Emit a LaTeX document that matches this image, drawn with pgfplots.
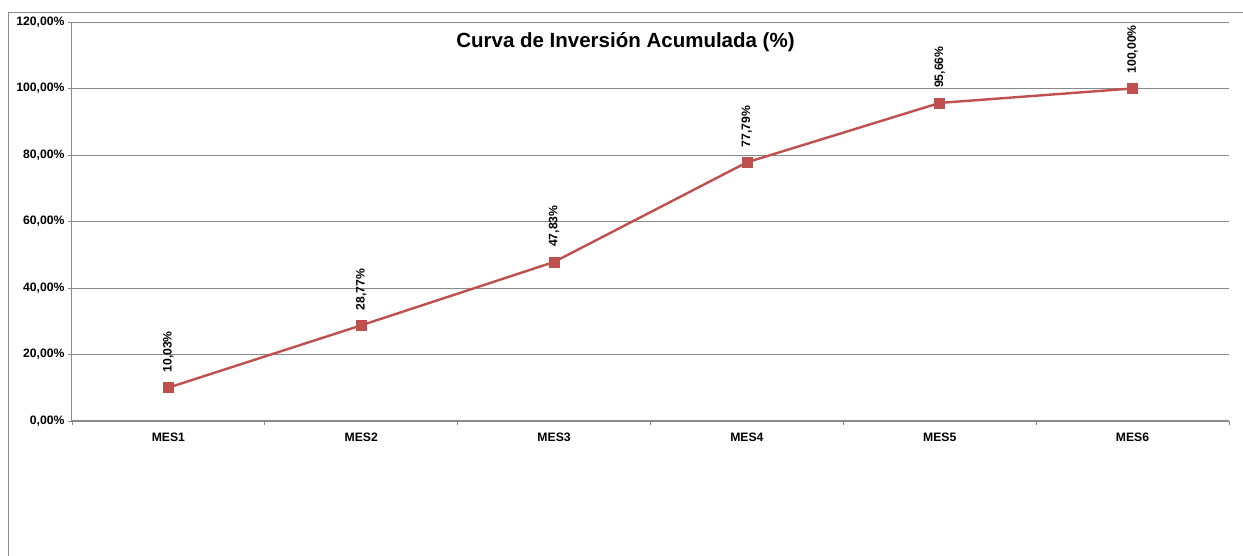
\documentclass[border=0pt]{standalone}
\usepackage{pgfplots}
\pgfplotsset{compat=1.18}
\usepackage{fontspec}
\setmainfont{Liberation Sans}
\definecolor{linered}{HTML}{C0504D}
\definecolor{gridgray}{HTML}{898989}
\begin{document}
\begin{tikzpicture}[x=1pt,y=1pt]
\useasboundingbox (0,0) rectangle (1243,556);
\draw[gridgray,line width=1pt] (8,0) -- (8,543) -- (1243,543);
\begin{axis}[
  at={(72pt,135pt)}, anchor=south west,
  scale only axis, width=1157pt, height=399pt,
  xmin=-0.5, xmax=5.5, ymin=0, ymax=120,
  axis x line*=bottom, axis y line*=left,
  axis line style={gridgray,line width=1pt},
  xtick={0,1,2,3,4,5}, xticklabels={MES1,MES2,MES3,MES4,MES5,MES6},
  minor xtick={-0.5,0.5,1.5,2.5,3.5,4.5,5.5},
  major x tick style={draw=none},
  minor x tick style={gridgray,line width=0.8pt},
  ytick={0,20,40,60,80,100,120},
  yticklabels={{0,00\%},{20,00\%},{40,00\%},{60,00\%},{80,00\%},{100,00\%},{120,00\%}},
  y tick style={gridgray,line width=0.8pt},
  tick align=outside, major tick length=4pt, minor tick length=4pt,
  ymajorgrids, grid style={gridgray,line width=0.8pt},
  tick label style={font=\bfseries\fontsize{12.2}{14}\selectfont},
  xticklabel style={yshift=-4pt},
  yticklabel style={xshift=0pt},
  clip=false,
  title={\bfseries\fontsize{20.5}{24}\selectfont Curva de Inversión Acumulada (\%)},
  title style={at={(0.5,1)}, anchor=north, yshift=-13pt, xshift=-25pt},
  nodes near coords,
  point meta=explicit symbolic,
  every node near coord/.append style={rotate=90, anchor=west, black, font=\bfseries\fontsize{12.2}{14}\selectfont, xshift=11.5pt},
]
\addplot[color=linered, line width=2.4pt, mark=square*, mark size=5pt, mark options={fill=linered,draw=linered,line width=0.5pt}]
  coordinates {
  (0,10.03) [10,03\%]
  (1,28.77) [28,77\%]
  (2,47.83) [47,83\%]
  (3,77.79) [77,79\%]
  (4,95.66) [95,66\%]
  (5,100.00) [100,00\%]
  };
\end{axis}
\end{tikzpicture}
\end{document}
